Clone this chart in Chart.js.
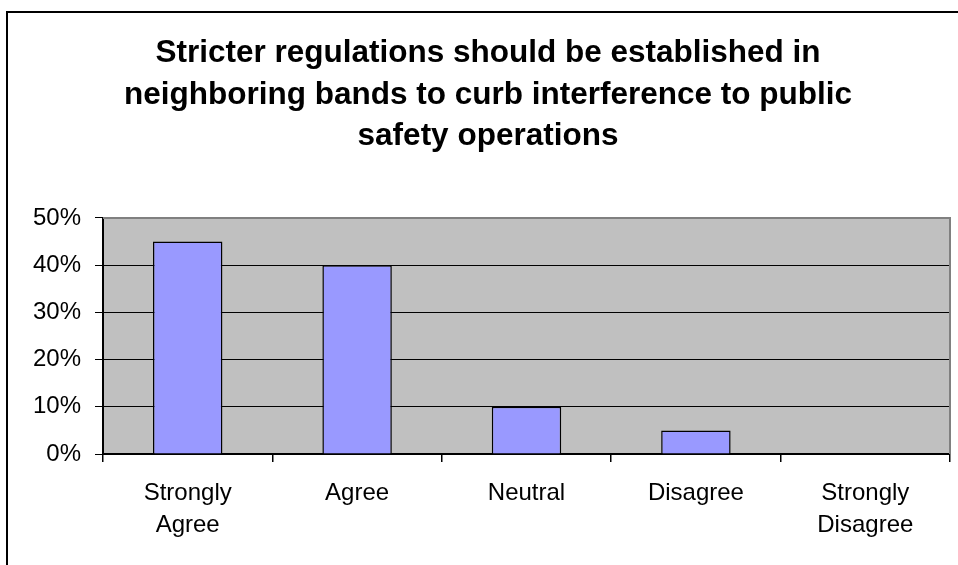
<!DOCTYPE html>
<html>
<head>
<meta charset="utf-8">
<script src="https://cdn.jsdelivr.net/npm/chart.js@4/dist/chart.umd.min.js"></script>
<style>
  html, body { margin: 0; padding: 0; background: #fff; }
  #wrap { width: 958px; height: 565px; position: relative; }
</style>
</head>
<body>
<div id="wrap"><canvas id="c" width="958" height="565"></canvas></div>
<script>
const titleLines = [
  'Stricter regulations should be established in',
  'neighboring bands to curb interference to public',
  'safety operations'
];
const categories = [
  ['Strongly', 'Agree'],
  'Agree',
  'Neutral',
  'Disagree',
  ['Strongly', 'Disagree']
];
const responseShares = [0.45, 0.40, 0.10, 0.05, 0];
const yTickValues = [0, 0.1, 0.2, 0.3, 0.4, 0.5];

const FONT = 'Arial, "Liberation Sans", sans-serif';

const framePlugin = {
  id: 'frame',
  beforeDraw(chart) {
    const { ctx, chartArea: a } = chart;
    ctx.save();
    ctx.fillStyle = '#ffffff';
    ctx.fillRect(0, 0, chart.width, chart.height);
    ctx.fillStyle = '#000000';
    ctx.fillRect(6, 11, chart.width - 6, 2);
    ctx.fillRect(6, 11, 2, chart.height - 11);
    ctx.fillStyle = '#C0C0C0';
    ctx.fillRect(a.left, a.top, a.right - a.left, a.bottom - a.top);
    ctx.restore();
  },
  afterDatasetsDraw(chart) {
    const { ctx, chartArea: a } = chart;
    ctx.save();
    ctx.strokeStyle = '#808080';
    ctx.lineWidth = 2;
    ctx.beginPath();
    ctx.moveTo(a.left, a.top);
    ctx.lineTo(a.right, a.top);
    ctx.lineTo(a.right, a.bottom);
    ctx.stroke();
    ctx.restore();
  }
};

new Chart(document.getElementById('c'), {
  type: 'bar',
  data: {
    labels: categories,
    datasets: [{
      data: responseShares,
      backgroundColor: '#9999FF',
      borderColor: '#000000',
      borderWidth: 1.5,
      barPercentage: 0.41,
      categoryPercentage: 1.0
    }]
  },
  options: {
    responsive: false,
    animation: false,
    devicePixelRatio: 1,
    layout: { padding: { left: 26, right: 8, top: 0, bottom: 0 } },
    plugins: {
      legend: { display: false },
      tooltip: { enabled: false },
      title: {
        display: true,
        text: titleLines,
        color: '#000000',
        font: { family: FONT, size: 31.5, weight: 'bold', lineHeight: 1.317 },
        padding: { top: 33, bottom: 60.5 }
      }
    },
    scales: {
      x: {
        afterFit(scale) { scale.height = 111; },
        grid: {
          display: true,
          drawOnChartArea: false,
          drawTicks: true,
          tickLength: 8,
          color: '#000000',
          lineWidth: 1.5,
          offset: true
        },
        border: { display: true, color: '#000000', width: 2 },
        ticks: {
          color: '#000000',
          padding: 15,
          maxRotation: 0,
          autoSkip: false,
          font: { family: FONT, size: 24, lineHeight: 1.35 }
        }
      },
      y: {
        min: 0,
        max: 0.5,
        afterFit(scale) { scale.width = 77; },
        afterBuildTicks(scale) { scale.ticks = yTickValues.map(v => ({ value: v })); },
        grid: {
          color: '#000000',
          lineWidth: 1,
          drawTicks: true,
          tickLength: 8
        },
        border: { display: true, color: '#000000', width: 2 },
        ticks: {
          color: '#000000',
          padding: 14,
          font: { family: FONT, size: 24 },
          callback: v => Math.round(v * 100) + '%'
        }
      }
    }
  },
  plugins: [framePlugin]
});
</script>
</body>
</html>
